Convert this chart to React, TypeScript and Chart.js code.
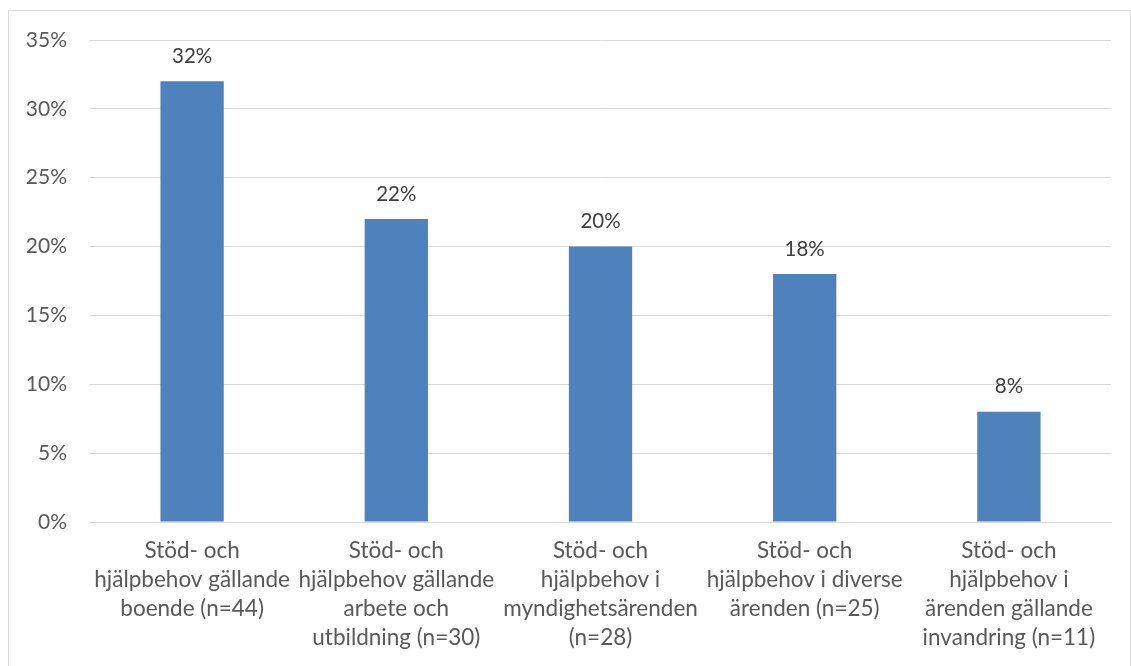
import React, { useEffect, useRef } from "react";
import { Chart, registerables } from "chart.js";

Chart.register(...registerables);

const categories: string[][] = [
  ["Stöd- och", "hjälpbehov gällande", "boende (n=44)"],
  ["Stöd- och", "hjälpbehov gällande", "arbete och", "utbildning (n=30)"],
  ["Stöd- och", "hjälpbehov i", "myndighetsärenden", "(n=28)"],
  ["Stöd- och", "hjälpbehov i diverse", "ärenden (n=25)"],
  ["Stöd- och", "hjälpbehov i", "ärenden gällande", "invandring (n=11)"],
];
const values: number[] = [32, 22, 20, 18, 8];
const yTicks: number[] = [0, 5, 10, 15, 20, 25, 30, 35];

const FONT = "Lato, 'Liberation Sans', sans-serif";

const dataLabels = {
  id: "dataLabels",
  afterDatasetsDraw(chart: any) {
    const ctx = chart.ctx;
    const meta = chart.getDatasetMeta(0);
    ctx.save();
    ctx.fillStyle = "#404040";
    ctx.font = `20.5px ${FONT}`;
    ctx.textAlign = "center";
    ctx.textBaseline = "middle";
    meta.data.forEach((bar: any, i: number) => {
      ctx.fillText(`${values[i]}%`, bar.x, bar.y - 25);
    });
    ctx.restore();
  },
};

export default function App() {
  const ref = useRef<HTMLCanvasElement>(null);
  useEffect(() => {
    if (!ref.current) return;
    const chart = new Chart(ref.current, {
      type: "bar",
      data: {
        labels: categories,
        datasets: [
          {
            data: values,
            backgroundColor: "#4f81bd",
            barPercentage: 0.62,
            categoryPercentage: 0.5,
          },
        ],
      },
      options: {
        responsive: false,
        animation: false,
        layout: { padding: { top: 29, right: 19, left: 0, bottom: 0 } },
        plugins: { legend: { display: false }, tooltip: { enabled: false } },
        scales: {
          x: {
            grid: { display: false, drawTicks: false },
            border: { display: true, color: "#d9d9d9", width: 1 },
            ticks: {
              color: "#595959",
              font: { family: FONT, size: 22.5, lineHeight: 1.29 },
              padding: 14,
              maxRotation: 0,
              autoSkip: false,
            },
            afterFit: (s: any) => {
              s.height = 144;
            },
          },
          y: {
            min: 0,
            max: 35,
            afterBuildTicks: (s: any) => {
              s.ticks = yTicks.map((v) => ({ value: v }));
            },
            grid: { color: "#d9d9d9", lineWidth: 1, drawTicks: false },
            border: { display: false },
            ticks: {
              color: "#595959",
              font: { family: FONT, size: 21 },
              padding: 23,
              callback: (v: any) => `${v}%`,
            },
            afterFit: (s: any) => {
              s.width = 81;
              s.paddingTop = 4;
              s.paddingBottom = 4;
            },
          },
        },
      },
      plugins: [dataLabels],
    });
    return () => chart.destroy();
  }, []);
  return (
    <div
      style={{
        position: "absolute",
        left: 8,
        top: 10,
        width: 1123,
        height: 656,
        boxSizing: "border-box",
        borderTop: "1px solid #d9d9d9",
        borderLeft: "1px solid #d9d9d9",
        borderRight: "1px solid #d9d9d9",
        background: "#fff",
      }}
    >
      <canvas ref={ref} width={1121} height={655} style={{ display: "block" }} />
    </div>
  );
}
